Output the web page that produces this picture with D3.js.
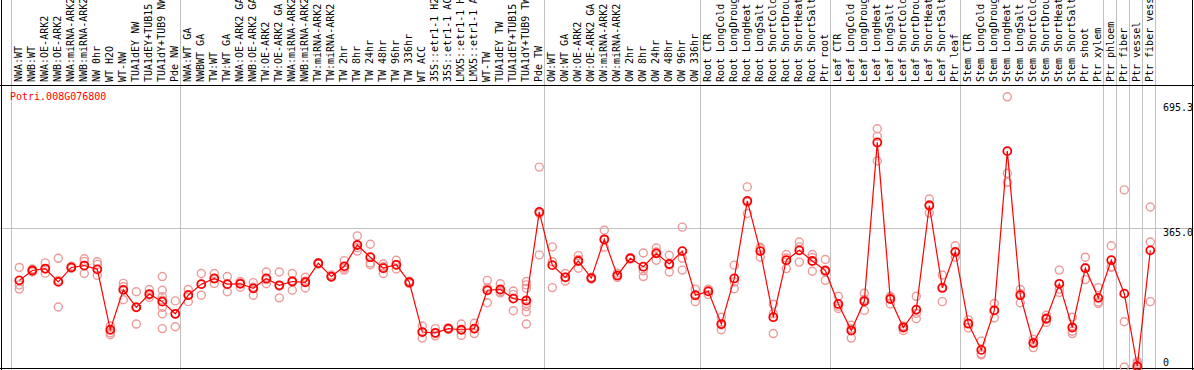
<!DOCTYPE html>
<html lang="en">
<head>
	<meta charset="UTF-8">
	<title>Potri.008G076800 expression</title>
	<style type="text/css">
		body{
			margin: 0;
			background: #fff;
		}
		svg text {
			font-family: "DejaVu Sans Mono", "Liberation Mono", monospace;
			font-size: 10px;
		}
		.frame line {
			stroke: #000;
			stroke-width: 1;
			shape-rendering: crispEdges;
		}
		.grid line {
			stroke: #c0c0c0;
			stroke-width: 1;
			shape-rendering: crispEdges;
		}
		.rep {
			fill: none;
			stroke: #ec9a9a;
			stroke-width: 1.4;
		}
		.mean {
			fill: none;
			stroke: #ff0000;
			stroke-width: 1.8;
		}
		.trend {
			fill: none;
			stroke: #ff0000;
			stroke-width: 1.2;
		}
	</style>
	<script type="text/javascript" src="https://d3js.org/d3.v7.min.js"></script>
</head>
<body>
</body>
<script type="text/javascript">
	// Sample names, one column each
	var labels = [
		"NWA:WT", "NWB:WT", "NWA:OE-ARK2", "NWB:OE-ARK2", "NWA:miRNA-ARK2", "NWB:miRNA-ARK2",
		"NW 0hr", "WT H2O", "WT-NW", "TUA1dEY NW", "TUA1dEY+TUB15", "TUA1dY+TUB9 NW", "Pde NW",
		"NWA:WT GA", "NWBWT GA", "TW:WT", "TW:WT GA", "NWA:OE-ARK2 GA", "NWB:OE-ARK2 GA",
		"TW:OE-ARK2", "TW:OE-ARK2 GA", "NWA:miRNA-ARK2", "NWB:miRNA-ARK2", "TW:miRNA-ARK2",
		"TW:miRNA-ARK2", "TW 2hr", "TW 8hr", "TW 24hr", "TW 48hr", "TW 96hr", "TW 336hr",
		"WT ACC", "35S::etr1-1 H2", "35S::etr1-1 AC", "LMX5::etr1-1 H", "LMX5::etr1-1 A",
		"WT-TW", "TUA1dEY TW", "TUA1dEY+TUB15", "TUA1dY+TUB9 TW", "Pde TW",
		"OW:WT", "OW:WT GA", "OW:OE-ARK2", "OW:OE-ARK2 GA", "OW:miRNA-ARK2", "OW:miRNA-ARK2",
		"OW 2hr", "OW 8hr", "OW 24hr", "OW 48hr", "OW 96hr", "OW 336hr",
		"Root CTR", "Root LongCold", "Root LongDroug", "Root LongHeat", "Root LongSalt",
		"Root ShortCold", "Root ShortDrou", "Root ShortHeat", "Root ShortSalt", "Ptr root",
		"Leaf CTR", "Leaf LongCold", "Leaf LongDroug", "Leaf LongHeat", "Leaf LongSalt",
		"Leaf ShortCold", "Leaf ShortDrou", "Leaf ShortHeat", "Leaf ShortSalt", "Ptr leaf",
		"Stem CTR", "Stem LongCold", "Stem LongDroug", "Stem LongHeat", "Stem LongSalt",
		"Stem ShortCold", "Stem ShortDrou", "Stem ShortHeat", "Stem ShortSalt", "Ptr shoot",
		"Ptr xylem", "Ptr phloem", "Ptr fiber", "Ptr vessel", "Ptr fiber vess"
	];

	// Mean expression per sample
	var means = [
		228, 254, 259, 224, 262, 267, 257, 98, 203, 157, 192, 172, 140,
		189, 218, 233, 218, 219, 207, 233, 215, 225, 223, 273, 238, 265, 321, 289, 260, 269, 223,
		92, 90, 101, 98, 101, 202, 204, 180, 175, 408,
		268, 236, 279, 234, 336, 241, 286, 264, 299, 271, 305, 189,
		199, 113, 233, 437, 305, 131, 281, 307, 279, 254,
		166, 96, 173, 591, 179, 104, 151, 425, 208, 303,
		114, 45, 149, 568, 189, 63, 127, 219, 104, 260, 182,
		281, 193, 2, 307
	];

	// Replicate values per sample
	var reps = [
		[262, 216, 205], [258, 250, 254], [274, 247, 258], [286, 158, 228], [265, 260, 261],
		[285, 278, 246], [277, 270, 241], [108, 90, 85], [220, 177, 211], [198, 113, 158],
		[204, 183, 189], [238, 202, 185, 176, 157, 140, 101], [174, 106, 139],
		[204, 172, 190], [246, 189, 218], [246, 220, 232], [238, 198, 217], [225, 210, 221],
		[222, 189, 210], [250, 219, 230], [250, 182, 213], [246, 202, 227], [236, 208, 226],
		[274, 271, 273], [242, 236, 237], [280, 255, 260], [345, 305, 314], [323, 269, 274],
		[271, 246, 264], [281, 258, 269], [220, 220, 226],
		[108, 76, 92], [101, 82, 88], [103, 99, 100], [113, 83, 98], [115, 88, 100],
		[228, 169, 208], [219, 195, 198], [200, 148, 191], [225, 216, 207, 167, 159, 145, 113],
		[526, 295, 404],
		[316, 277, 209], [246, 226, 236], [293, 260, 283], [236, 231, 234], [360, 315, 334],
		[236, 247, 240], [288, 284, 286], [300, 238, 253], [313, 281, 303], [294, 250, 268],
		[368, 286, 255], [205, 172, 188],
		[205, 191, 201], [131, 98, 111], [268, 206, 224], [474, 404, 434], [315, 289, 312],
		[165, 88, 140], [296, 259, 287], [329, 276, 316], [296, 252, 288], [283, 228, 251],
		[186, 154, 160], [76, 110, 101], [194, 149, 178], [627, 607, 542], [186, 166, 184],
		[96, 106, 108], [186, 127, 141], [442, 405, 427], [242, 172, 210], [319, 289, 301],
		[124, 103, 116], [68, 32, 35], [167, 129, 150], [711, 510, 486], [204, 169, 193],
		[73, 51, 65], [136, 117, 129], [255, 196, 205], [131, 88, 94], [289, 230, 261],
		[209, 167, 171],
		[319, 264, 262], [466, 119, 0], [14, 9, 0], [421, 329, 172]
	];

	// First column of each sample group (vertical separators)
	var groupStarts = [0, 13, 41, 53, 63, 73, 84, 85, 86, 87, 88];

	// Right axis ticks
	var yTicks = [0, 365.0, 695.3];
	var yTickLabels = ["0", "365.0", "695.3"];
	var gridTicks = [365.0];

	var geneName = "Potri.008G076800";

	var fullWidth = 1194;
	var fullHeight = 370;
	var labelBottom = 85;

	var svg = d3.select('body')
		.append('svg')
		.attr('width', fullWidth)
		.attr('height', fullHeight);

	// Band per sample, marker sits a bit right of band start
	var xScale = d3.scaleBand()
		.domain(d3.range(labels.length))
		.range([11.6, 11.6 + 13 * labels.length])
		.paddingInner(0)
		.paddingOuter(0);

	var xc = function(i){ return xScale(i) + 7.7; };
	var xEdge = function(i){ return i < labels.length ? xScale(i) : xScale(labels.length - 1) + xScale.step(); };

	var yScale = d3.scaleLinear()
		.domain([0, 365])
		.range([367, 228.3]);

	// Gridlines
	var grid = svg.append('g').attr('class', 'grid');

	grid.selectAll('.hgrid')
		.data(gridTicks)
		.enter().append('line')
		.attr('x1', 0)
		.attr('x2', fullWidth)
		.attr('y1', function(d){ return Math.round(yScale(d)) + 0.5; })
		.attr('y2', function(d){ return Math.round(yScale(d)) + 0.5; });

	grid.selectAll('.vgrid')
		.data(groupStarts)
		.enter().append('line')
		.attr('x1', function(d){ return Math.round(xEdge(d)) - 0.5; })
		.attr('x2', function(d){ return Math.round(xEdge(d)) - 0.5; })
		.attr('y1', 0)
		.attr('y2', fullHeight);

	// Frame
	var frame = svg.append('g').attr('class', 'frame');
	frame.append('line').attr('x1', 1.5).attr('x2', 1.5).attr('y1', 0).attr('y2', fullHeight);
	frame.append('line').attr('x1', fullWidth - 1.5).attr('x2', fullWidth - 1.5).attr('y1', 0).attr('y2', fullHeight);
	frame.append('line').attr('x1', 0).attr('x2', fullWidth).attr('y1', labelBottom + 0.5).attr('y2', labelBottom + 0.5);
	frame.append('line').attr('x1', 0).attr('x2', fullWidth).attr('y1', fullHeight - 1.5).attr('y2', fullHeight - 1.5);

	// Rotated sample labels
	svg.append('g')
		.selectAll('text')
		.data(labels)
		.enter().append('text')
		.attr('transform', function(d, i){ return 'translate(' + (xc(i) + 2.5) + ',82) rotate(-90)'; })
		.attr('text-anchor', 'start')
		.attr('fill', '#000')
		.text(function(d){ return d; });

	// Right axis labels
	svg.append('g')
		.selectAll('text')
		.data(yTicks)
		.enter().append('text')
		.attr('x', 1163)
		.attr('y', function(d){ return d === 0 ? yScale(d) - 1.5 : yScale(d) + 8; })
		.attr('fill', '#000')
		.text(function(d, i){ return yTickLabels[i]; });

	// Gene name
	svg.append('text')
		.attr('x', 10)
		.attr('y', 100)
		.attr('fill', '#ff0000')
		.text(geneName);

	// Replicates
	var repPoints = [];
	reps.forEach(function(r, i){
		r.forEach(function(v){ repPoints.push({i: i, v: v}); });
	});

	svg.append('g')
		.selectAll('circle')
		.data(repPoints)
		.enter().append('circle')
		.attr('class', 'rep')
		.attr('cx', function(d){ return xc(d.i); })
		.attr('cy', function(d){ return yScale(d.v); })
		.attr('r', 4);

	// Mean line
	var line = d3.line()
		.x(function(d, i){ return xc(i); })
		.y(function(d){ return yScale(d); });

	svg.append('path')
		.datum(means)
		.attr('class', 'trend')
		.attr('d', line);

	svg.append('g')
		.selectAll('circle')
		.data(means)
		.enter().append('circle')
		.attr('class', 'mean')
		.attr('cx', function(d, i){ return xc(i); })
		.attr('cy', function(d){ return yScale(d); })
		.attr('r', 4);
</script>
</html>
